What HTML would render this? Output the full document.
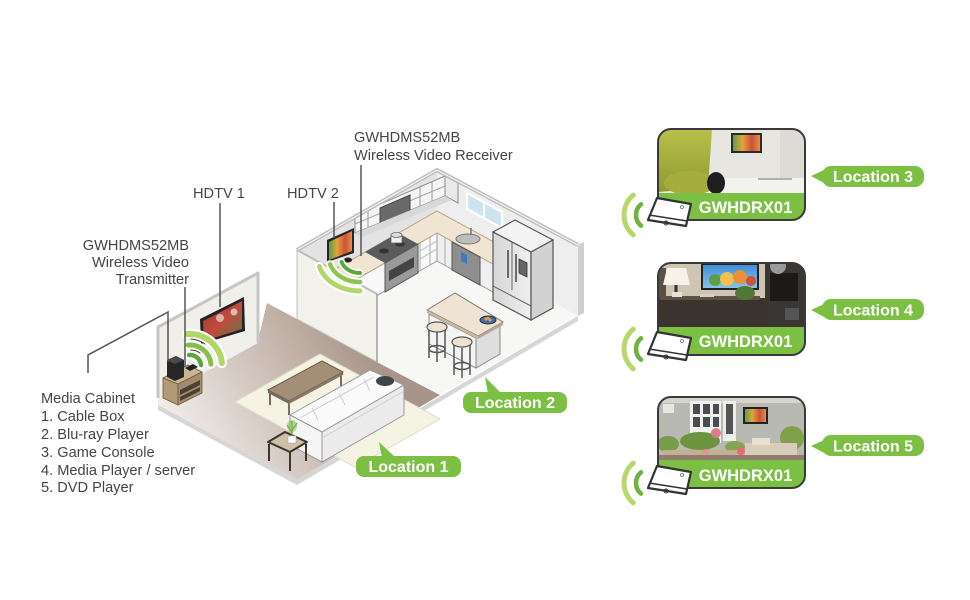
<!DOCTYPE html>
<html><head><meta charset="utf-8">
<style>
html,body{margin:0;padding:0;background:#fff;}
svg{display:block;}
text{font-family:"Liberation Sans",Arial,sans-serif;}
</style></head><body>
<svg width="970" height="600" viewBox="0 0 970 600" xmlns="http://www.w3.org/2000/svg">
<defs>
<linearGradient id="fl" gradientUnits="userSpaceOnUse" x1="180" y1="440" x2="360" y2="330">
<stop offset="0" stop-color="#f1edea"/><stop offset="0.55" stop-color="#cbbdb4"/><stop offset="1" stop-color="#a89488"/>
</linearGradient>
<linearGradient id="tvimg" x1="0" y1="0" x2="1" y2="1">
<stop offset="0" stop-color="#9b3a33"/><stop offset="0.5" stop-color="#c04a3c"/><stop offset="1" stop-color="#5c7a46"/>
</linearGradient>
<linearGradient id="tv2img" x1="0" y1="0" x2="1" y2="0">
<stop offset="0" stop-color="#5aa04a"/><stop offset="0.35" stop-color="#e2a43a"/><stop offset="0.7" stop-color="#d0503a"/><stop offset="1" stop-color="#e89040"/>
</linearGradient>
<linearGradient id="g1" x1="0" y1="0" x2="0" y2="1">
<stop offset="0" stop-color="#b9c04c"/><stop offset="1" stop-color="#8e9b2d"/>
</linearGradient>
<linearGradient id="sky" x1="0" y1="0" x2="0" y2="1">
<stop offset="0" stop-color="#3f8fd8"/><stop offset="1" stop-color="#8cc2e8"/>
</linearGradient>
<linearGradient id="fr" x1="0" y1="0" x2="1" y2="0">
<stop offset="0" stop-color="#d6d6d6"/><stop offset="1" stop-color="#efefef"/>
</linearGradient>
<clipPath id="c1"><rect x="658" y="129" width="147" height="91" rx="13"/></clipPath>
<clipPath id="c2"><rect x="658" y="263" width="147" height="92" rx="13"/></clipPath>
<clipPath id="c3"><rect x="658" y="397" width="147" height="91" rx="13"/></clipPath>
</defs>

<rect width="970" height="600" fill="#fff"/>

<!-- ===== FLOORS ===== -->
<polygon points="158,396 258,340 267,303 297,319 377,362 440,395 297,480 158,405" fill="url(#fl)"/>
<polygon points="297,319 437,239 578,316 440,395 377,362" fill="#f7f7f5"/>
<polygon points="158,405 297,480 578,316 578,321 297,485 158,410" fill="#d6d6d6"/>

<!-- ===== KITCHEN WALLS ===== -->
<polygon points="297,250 437,170 437,239 297,319" fill="#e3e3e3"/>
<polygon points="437,170 578,245 578,316 437,239" fill="#eeeeee"/>
<polygon points="578,245 584,242 584,313 578,316" fill="#cfcfcf"/>
<!-- window -->
<polygon points="467,193 502,212 502,228 467,209" fill="#cfe3ee" stroke="#fff" stroke-width="2"/>
<line x1="484" y1="202" x2="484" y2="218" stroke="#fff" stroke-width="2"/>
<!-- upper cabinets -->
<polygon points="355,215 445,176 445,196 355,233" fill="#f5f5f5" stroke="#8a8a8a" stroke-width="1"/>
<line x1="355" y1="224" x2="445" y2="186" stroke="#aaa" stroke-width="1"/>
<polygon points="445,176 458,183 458,203 445,196" fill="#e9e9e9" stroke="#8a8a8a" stroke-width="1"/>
<polygon points="380,208 410,195 410,215 380,228" fill="#6a6a6a" stroke="#444" stroke-width="1"/>
<line x1="368" y1="210" x2="368" y2="228" stroke="#999" stroke-width="1"/>
<line x1="420" y1="187" x2="420" y2="206" stroke="#999" stroke-width="1"/>
<line x1="432" y1="182" x2="432" y2="201" stroke="#999" stroke-width="1"/>
<polygon points="355,233 445,196 452,200 362,237" fill="#d8d8d8"/>
<!-- counters -->
<polygon points="317,302 437,233 437,261 317,330" fill="#f9f9f9" stroke="#9a9a9a" stroke-width="1"/>
<polygon points="437,233 493,264 493,292 437,261" fill="#efefef" stroke="#9a9a9a" stroke-width="1"/>
<line x1="420" y1="243" x2="420" y2="271" stroke="#aaa"/>
<line x1="430" y1="237" x2="430" y2="265" stroke="#aaa"/>
<line x1="445" y1="238" x2="445" y2="266" stroke="#aaa"/>
<line x1="420" y1="251" x2="437" y2="241" stroke="#bbb"/>
<line x1="420" y1="259" x2="437" y2="249" stroke="#bbb"/>
<polygon points="297,291 437,211 505,248 493,264 437,233 317,302" fill="#efe5d2" stroke="#b7a88f" stroke-width="1"/>
<!-- stove -->
<polygon points="365,252 398,233 418,244 385,263" fill="#5b5b5b"/>
<ellipse cx="384" cy="251" rx="5" ry="2.5" fill="#333"/>
<ellipse cx="400" cy="244" rx="5" ry="2.5" fill="#333"/>
<polygon points="385,263 418,244 418,273 385,292" fill="#9a9a9a" stroke="#555"/>
<polygon points="389,271 414,257 414,267 389,281" fill="#444"/>
<rect x="391" y="235" width="11" height="8" fill="#eee" stroke="#666" stroke-width="0.8"/>
<ellipse cx="396.5" cy="235" rx="5.5" ry="2.5" fill="#ddd" stroke="#666" stroke-width="0.8"/>
<!-- sink & dishwasher -->
<ellipse cx="468" cy="239" rx="12" ry="5" fill="#bdbdbd" stroke="#777"/>
<line x1="471" y1="228" x2="471" y2="235" stroke="#777" stroke-width="1.5"/>
<polygon points="452,242 480,257 480,285 452,270" fill="#8e8e8e" stroke="#555"/>
<polygon points="461,252 467,255 467,264 461,261" fill="#3a7cc4"/>
<!-- fridge -->
<polygon points="493,232 515,220 553,240 531,252" fill="#f3f3f3" stroke="#555" stroke-width="1.2"/>
<polygon points="493,232 531,252 531,320 493,300" fill="url(#fr)" stroke="#555" stroke-width="1.2"/>
<polygon points="531,252 553,240 553,308 531,320" fill="#d2d2d2" stroke="#555" stroke-width="1.2"/>
<line x1="512" y1="242" x2="512" y2="290" stroke="#666"/>
<line x1="493" y1="286" x2="531" y2="306" stroke="#666"/>
<line x1="508" y1="250" x2="508" y2="278" stroke="#444" stroke-width="1.5"/>
<line x1="516" y1="254" x2="516" y2="282" stroke="#444" stroke-width="1.5"/>
<polygon points="519,259 527,263 527,277 519,273" fill="#666" stroke="#333" stroke-width="0.8"/>
<!-- TV2 -->
<polygon points="327,240 354,228 354,253 327,262" fill="#262626"/>
<polygon points="329,242 352,231 352,251 329,260" fill="url(#tv2img)"/>
<ellipse cx="348" cy="260" rx="4" ry="2.5" fill="#222"/>

<!-- rim -->
<polyline points="297,250 437,170 578,245" fill="none" stroke="#bdbdbd" stroke-width="4" stroke-linejoin="round"/>
<polyline points="297,250 437,170 578,245" fill="none" stroke="#f5f5f5" stroke-width="1.2"/>

<!-- partition wall -->
<polygon points="297,250 377,294 377,362 297,319" fill="#f3f2ea" stroke="#c2c2c2" stroke-width="1"/>
<line x1="297" y1="250" x2="377" y2="294" stroke="#bdbdbd" stroke-width="2"/>
<line x1="377" y1="294" x2="377" y2="362" stroke="#8a8a8a" stroke-width="1.2"/>

<!-- kitchen arcs -->
<g fill="none" stroke-linecap="round">
<path d="M319.4 266.5 A42 33 0 0 0 360 291" stroke="#fff" stroke-width="9"/>
<path d="M330.1 264.2 A31 24 0 0 0 360 282" stroke="#fff" stroke-width="8"/>
<path d="M341.6 261.9 A19 15 0 0 0 360 273" stroke="#fff" stroke-width="7"/>
<path d="M319.4 266.5 A42 33 0 0 0 360 291" stroke="#b3d669" stroke-width="5"/>
<path d="M330.1 264.2 A31 24 0 0 0 360 282" stroke="#8cc54e" stroke-width="4.5"/>
<path d="M341.6 261.9 A19 15 0 0 0 360 273" stroke="#5aa83a" stroke-width="4"/>
</g>

<!-- island -->
<polygon points="429,314 476,338 476,368 429,344" fill="#f4f4f4" stroke="#888"/>
<polygon points="476,338 500,325 500,354 476,368" fill="#dedede" stroke="#888"/>
<polygon points="427,310 455,293 503,322 478,336" fill="#efe4d3" stroke="#777"/>
<polygon points="427,310 478,336 478,339 427,313" fill="#c9b9a0"/>
<polygon points="478,336 503,322 503,325 478,339" fill="#b7a78f"/>
<ellipse cx="488" cy="320" rx="8" ry="4" fill="#3d6fb0" stroke="#234"/>
<circle cx="486" cy="319" r="1.6" fill="#f0a030"/><circle cx="490" cy="320" r="1.6" fill="#f0a030"/><circle cx="488" cy="318" r="1.4" fill="#f0a030"/>
<!-- stools -->
<g stroke="#555" stroke-width="1.5" fill="none">
<line x1="429" y1="329" x2="429" y2="358"/><line x1="445" y1="329" x2="445" y2="358"/><line x1="437" y1="332" x2="437" y2="362"/>
<ellipse cx="437" cy="349" rx="8" ry="3.5"/>
<line x1="454" y1="345" x2="454" y2="375"/><line x1="470" y1="345" x2="470" y2="375"/><line x1="462" y1="348" x2="462" y2="378"/>
<ellipse cx="462" cy="366" rx="8" ry="3.5"/>
</g>
<ellipse cx="437" cy="327" rx="10" ry="5" fill="#eee3d0" stroke="#555" stroke-width="1.2"/>
<ellipse cx="462" cy="342" rx="10" ry="5" fill="#eee3d0" stroke="#555" stroke-width="1.2"/>

<!-- ===== LIVING ROOM ===== -->
<polygon points="158,327 258,273 258,343 158,398" fill="#f1efe9"/>
<polyline points="158,398 158,327 258,273 258,343" fill="none" stroke="#c6c6c6" stroke-width="3" stroke-linejoin="round"/>
<!-- TV1 -->
<polygon points="200,319 244,297 245,331 201,344" fill="#232323"/>
<polygon points="203,321 242,301 242,329 204,341" fill="url(#tvimg)"/>
<circle cx="220" cy="318" r="4" fill="#e8e0d8" opacity="0.7"/>
<circle cx="234" cy="312" r="3.5" fill="#f0e8e0" opacity="0.7"/>
<!-- TV1 arcs -->
<g fill="none" stroke-linecap="round">
<path d="M187.2 334.1 A32 32 0 0 1 221.9 363.2" stroke="#fff" stroke-width="10"/>
<path d="M188.2 345.1 A21 21 0 0 1 210.9 364.2" stroke="#fff" stroke-width="9"/>
<path d="M189.0 355.0 A11 11 0 0 1 201.0 365.0" stroke="#fff" stroke-width="8"/>
<path d="M187.2 334.1 A32 32 0 0 1 221.9 363.2" stroke="#b3d669" stroke-width="6"/>
<path d="M188.2 345.1 A21 21 0 0 1 210.9 364.2" stroke="#85c14a" stroke-width="5"/>
<path d="M189.0 355.0 A11 11 0 0 1 201.0 365.0" stroke="#5aa83a" stroke-width="4.5"/>
<path d="M191 339 A27 27 0 0 1 205 344" stroke="#444" stroke-width="1"/>
<path d="M191 350 A16 16 0 0 1 200 353" stroke="#444" stroke-width="1"/>
</g>
<!-- media cabinet -->
<polygon points="163,378 188,365 202,372 178,384" fill="#c9b593" stroke="#6b5a44" stroke-width="0.8"/>
<polygon points="163,378 178,384 178,405 163,398" fill="#b19b77" stroke="#6b5a44" stroke-width="0.8"/>
<polygon points="178,384 202,372 202,393 178,405" fill="#a28c6b" stroke="#6b5a44" stroke-width="0.8"/>
<polygon points="180,390 200,380 200,385 180,395" fill="#4a4036"/>
<polygon points="180,397 200,387 200,391 180,401" fill="#4a4036"/>
<polygon points="167,360 176,356 184,360 184,377 175,381 167,377" fill="#262626"/>
<polygon points="167,360 176,356 184,360 175,364" fill="#4a4a4a"/>
<polygon points="185,368 193,364 198,367 190,371" fill="#222"/>

<!-- rug -->
<polygon points="235,402 320,354 440,419 355,467" fill="#f5f3e3" stroke="#e0dcc8" stroke-width="1"/>
<!-- coffee table -->
<g stroke="#4d4036" stroke-width="1.5">
<line x1="270" y1="392" x2="270" y2="405"/><line x1="289" y1="403" x2="289" y2="415"/><line x1="341" y1="374" x2="341" y2="386"/>
</g>
<polygon points="268,390 322,361 343,372 289,401" fill="#a38e78" stroke="#6b5b4c"/>
<polygon points="268,390 289,401 289,404 268,393" fill="#7d6b5a"/>
<polygon points="289,401 343,372 343,375 289,404" fill="#8a7864"/>
<!-- sofa -->
<polygon points="290,415 370,370 404,385 322,432" fill="#fafafa" stroke="#999"/>
<polyline points="300,418 374,377" fill="none" stroke="#ccc"/>
<line x1="318" y1="420" x2="312" y2="408" stroke="#ccc"/>
<line x1="345" y1="405" x2="339" y2="393" stroke="#ccc"/>
<line x1="370" y1="391" x2="364" y2="379" stroke="#ccc"/>
<ellipse cx="385" cy="381" rx="9" ry="5" fill="#3f4447"/>
<polygon points="322,432 404,385 404,415 322,462" fill="#ebebeb" stroke="#999"/>
<polygon points="290,415 322,432 322,462 290,445" fill="#f5f5f5" stroke="#999"/>
<line x1="322" y1="438" x2="404" y2="391" stroke="#cfcfcf"/>
<!-- side table -->
<g stroke="#3e342c" stroke-width="2">
<line x1="269" y1="444" x2="269" y2="461"/><line x1="290" y1="452" x2="290" y2="471"/><line x1="306" y1="444" x2="306" y2="461"/>
</g>
<polygon points="268,442 285,432 307,442 290,452" fill="#cdbfa9" stroke="#3e342c" stroke-width="2" stroke-linejoin="round"/>
<rect x="288" y="436" width="8" height="7" fill="#fff" stroke="#aaa" stroke-width="0.6"/>
<g stroke="#6aa040" stroke-width="1.5" fill="none">
<line x1="292" y1="436" x2="292" y2="421"/><line x1="292" y1="432" x2="287" y2="425"/><line x1="292" y1="430" x2="297" y2="423"/>
</g>
<ellipse cx="292" cy="426" rx="5" ry="6" fill="#8cbf5a" opacity="0.6"/>

<!-- ===== LEADER LINES ===== -->
<g stroke="#555" stroke-width="1.5" fill="none">
<polyline points="88,373 88,355 168,312 168,362"/>
<line x1="185" y1="287" x2="185" y2="367"/>
<line x1="220" y1="203" x2="220" y2="307"/>
<line x1="334" y1="202" x2="334" y2="238"/>
<line x1="361" y1="165" x2="361" y2="256"/>
</g>

<!-- ===== TEXT ===== -->
<g font-size="14.6" fill="#454545">
<text x="193" y="198">HDTV 1</text>
<text x="287" y="198">HDTV 2</text>
<text x="354" y="142">GWHDMS52MB</text>
<text x="354" y="160">Wireless Video Receiver</text>
<text x="189" y="250" text-anchor="end">GWHDMS52MB</text>
<text x="189" y="267" text-anchor="end">Wireless Video</text>
<text x="189" y="284" text-anchor="end">Transmitter</text>
<text x="41" y="403">Media Cabinet</text>
<text x="41" y="421">1. Cable Box</text>
<text x="41" y="439">2. Blu-ray Player</text>
<text x="41" y="457">3. Game Console</text>
<text x="41" y="475">4. Media Player / server</text>
<text x="41" y="492">5. DVD Player</text>
</g>

<!-- ===== LOCATION PILLS (left) ===== -->
<g fill="#7cc043">
<polygon points="379,442 382,458 396,458"/>
<rect x="356" y="456" width="105" height="21" rx="8"/>
<polygon points="485,377 488,394 502,394"/>
<rect x="463" y="392" width="104" height="21" rx="8"/>
</g>
<g font-size="16" font-weight="bold" fill="#fff" text-anchor="middle">
<text x="408.5" y="472">Location 1</text>
<text x="515" y="408">Location 2</text>
</g>

<!-- ===== RIGHT PANELS ===== -->
<!-- panel 1 -->
<g clip-path="url(#c1)">
<rect x="658" y="129" width="147" height="91" fill="#e7e6e1"/>
<rect x="780" y="129" width="25" height="64" fill="#dcdbd6"/>
<polygon points="658,129 712,129 708,188 658,192" fill="url(#g1)"/>
<rect x="731" y="133" width="31" height="20" fill="#2b2b2b"/>
<rect x="733" y="135" width="27" height="16" fill="url(#tv2img)"/>
<rect x="700" y="178" width="105" height="15" fill="#f2f2ef"/>
<ellipse cx="690" cy="183" rx="26" ry="12" fill="#a6ad3e"/>
<ellipse cx="716" cy="183" rx="9" ry="11" fill="#1f1f1f"/>
<line x1="758" y1="179" x2="792" y2="179" stroke="#999" stroke-width="1.5"/>
<rect x="658" y="193" width="147" height="27" fill="#7cc043"/>
</g>
<rect x="658" y="129" width="147" height="91" rx="13" fill="none" stroke="#3a3a3a" stroke-width="2"/>

<!-- panel 2 -->
<g clip-path="url(#c2)">
<rect x="658" y="263" width="147" height="92" fill="#cfc5b3"/>
<rect x="658" y="268" width="8" height="32" fill="#5a5046"/>
<polygon points="667,268 686,268 690,285 663,285" fill="#f6f2ea"/>
<line x1="676" y1="285" x2="676" y2="300" stroke="#333" stroke-width="3"/>
<rect x="701" y="263" width="58" height="27" fill="#222"/>
<rect x="703" y="265" width="54" height="23" fill="url(#sky)"/>
<circle cx="715" cy="280" r="6" fill="#5aa04a"/>
<circle cx="727" cy="279" r="7" fill="#f0c050"/>
<circle cx="740" cy="277" r="7" fill="#e8913a"/>
<circle cx="751" cy="281" r="5" fill="#d0503a"/>
<rect x="765" y="263" width="40" height="64" fill="#3a3633"/>
<rect x="770" y="273" width="28" height="28" fill="#1c1a19"/>
<circle cx="778" cy="266" r="8" fill="#9a9a9a"/>
<rect x="658" y="298" width="110" height="29" fill="#3b332d"/>
<rect x="660" y="296" width="100" height="4" fill="#5d5045"/>
<rect x="672" y="292" width="10" height="5" fill="#e8e2d6"/>
<rect x="700" y="294" width="14" height="3" fill="#d8d0c4"/>
<ellipse cx="745" cy="293" rx="10" ry="7" fill="#4f7a35"/>
<rect x="785" y="308" width="14" height="12" fill="#555"/>
<rect x="658" y="327" width="147" height="28" fill="#7cc043"/>
</g>
<rect x="658" y="263" width="147" height="92" rx="13" fill="none" stroke="#3a3a3a" stroke-width="2"/>

<!-- panel 3 -->
<g clip-path="url(#c3)">
<rect x="658" y="397" width="147" height="91" fill="#b8b9b3"/>
<rect x="658" y="397" width="147" height="6" fill="#d8d4cc"/>
<rect x="663" y="404" width="11" height="9" fill="#e8e6e0"/>
<rect x="690" y="401" width="31" height="42" fill="#f0f0ee"/>
<g fill="#4a4d4f">
<rect x="693" y="404" width="7" height="10"/><rect x="703" y="404" width="7" height="10"/><rect x="713" y="404" width="6" height="10"/>
<rect x="693" y="417" width="7" height="10"/><rect x="703" y="417" width="7" height="10"/><rect x="713" y="417" width="6" height="10"/>
</g>
<rect x="723" y="401" width="13" height="40" fill="#eeeeec"/>
<rect x="726" y="404" width="7" height="30" fill="#555"/>
<rect x="743" y="407" width="25" height="17" fill="#222"/>
<rect x="745" y="409" width="21" height="13" fill="url(#tv2img)"/>
<ellipse cx="700" cy="441" rx="20" ry="9" fill="#6f9440"/>
<ellipse cx="668" cy="444" rx="11" ry="8" fill="#789d48"/>
<ellipse cx="792" cy="438" rx="12" ry="12" fill="#7ea24c"/>
<ellipse cx="735" cy="447" rx="10" ry="6" fill="#85a552"/>
<rect x="745" y="443" width="52" height="12" fill="#d8cdb8"/>
<rect x="752" y="438" width="18" height="7" fill="#e8e0d0"/>
<rect x="663" y="450" width="82" height="10" fill="#c5af91"/>
<circle cx="716" cy="433" r="5" fill="#e07a8a"/>
<circle cx="741" cy="451" r="4" fill="#e56a72"/>
<circle cx="706" cy="452" r="3" fill="#e78f9a"/>
<rect x="658" y="455" width="147" height="5" fill="#8e7d6a"/>
<rect x="658" y="460" width="147" height="28" fill="#7cc043"/>
</g>
<rect x="658" y="397" width="147" height="91" rx="13" fill="none" stroke="#3a3a3a" stroke-width="2"/>

<!-- GWHDRX01 labels -->
<g font-size="16.5" font-weight="bold" fill="#fff" text-anchor="middle">
<text x="745.5" y="213">GWHDRX01</text>
<text x="745.5" y="347">GWHDRX01</text>
<text x="745.5" y="481">GWHDRX01</text>
</g>

<!-- devices + arcs -->
<g id="dev">
<g fill="none" stroke-linecap="round">
<path d="M633.3 234.9 A26 26 0 0 1 633.3 195.1" stroke="#b7d96b" stroke-width="5"/>
<path d="M641.0 225.7 A14 14 0 0 1 641.0 204.3" stroke="#6db340" stroke-width="4.5"/>
</g>
<polygon points="657,198 691,204 686,226 648,220" fill="#fff" stroke="#333" stroke-width="2.2" stroke-linejoin="round"/>
<line x1="649" y1="215" x2="687" y2="221" stroke="#333" stroke-width="1.5"/>
<circle cx="666" cy="223" r="2" fill="none" stroke="#333" stroke-width="1"/>
<circle cx="682" cy="207" r="1.5" fill="none" stroke="#666" stroke-width="0.8"/>
</g>
<use href="#dev" transform="translate(0,134)"/>
<use href="#dev" transform="translate(0,268)"/>

<!-- right pills -->
<g fill="#7cc043">
<polygon points="811,176 826,169 826,184"/>
<rect x="822" y="166" width="102" height="21" rx="9"/>
<polygon points="811,310 826,303 826,318"/>
<rect x="822" y="299" width="102" height="21" rx="9"/>
<polygon points="811,446 826,439 826,454"/>
<rect x="822" y="435" width="102" height="21" rx="9"/>
</g>
<g font-size="16" font-weight="bold" fill="#fff" text-anchor="middle">
<text x="873" y="182">Location 3</text>
<text x="873" y="315.5">Location 4</text>
<text x="873" y="451.5">Location 5</text>
</g>
</svg>
</body></html>
